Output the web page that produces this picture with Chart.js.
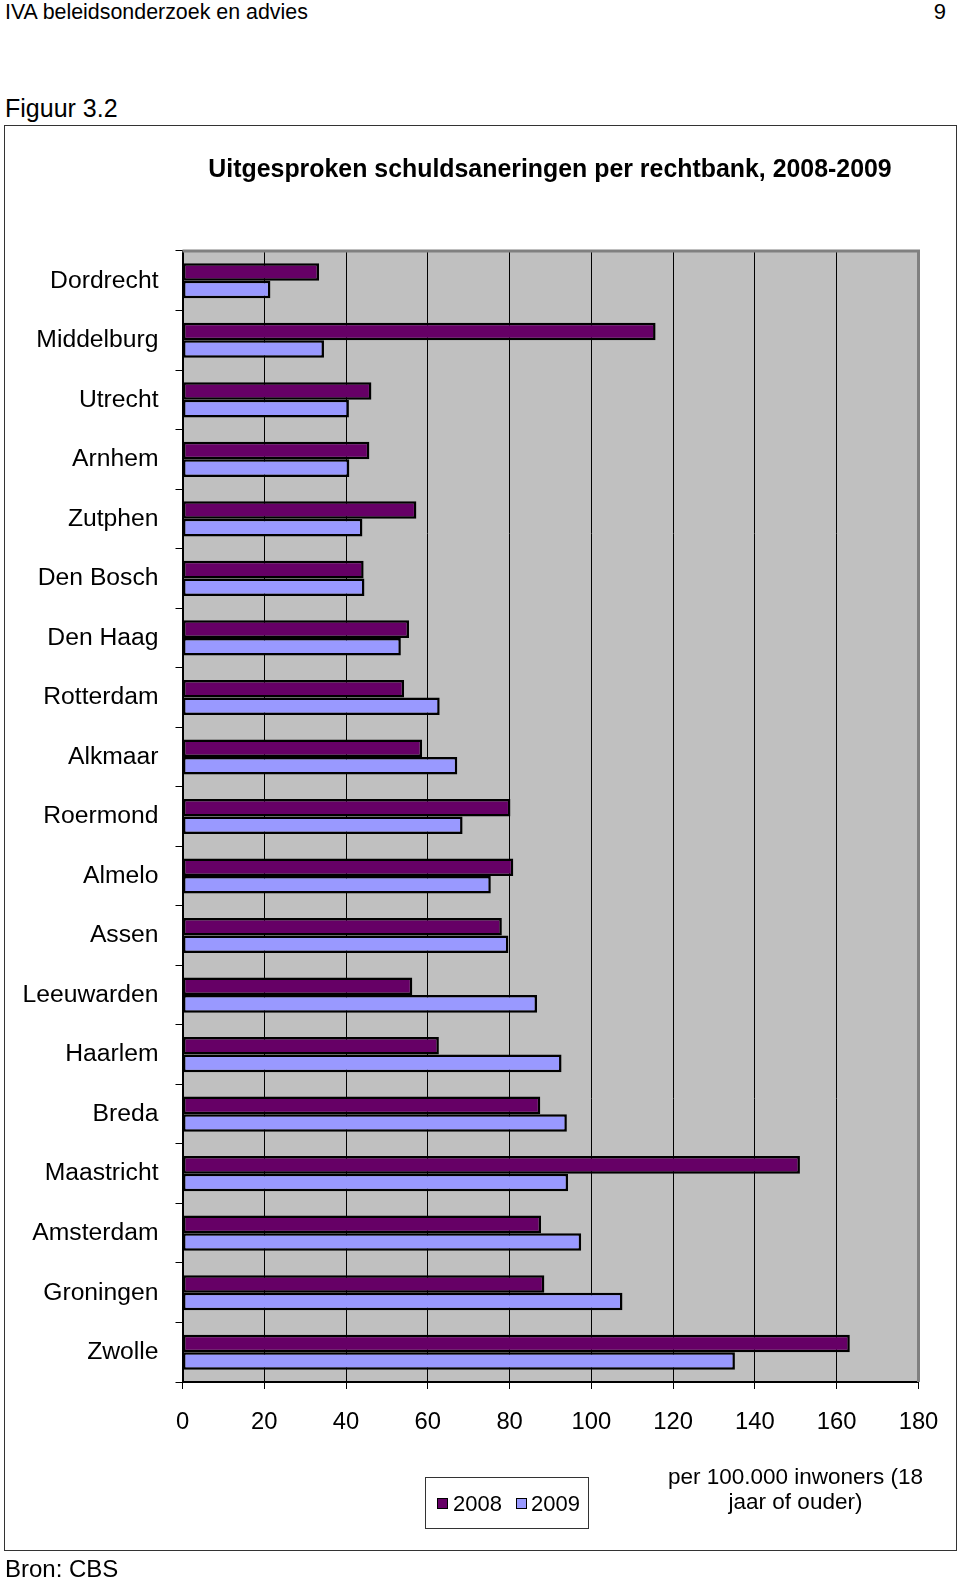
<!DOCTYPE html>
<html>
<head>
<meta charset="utf-8">
<script src="https://cdn.jsdelivr.net/npm/chart.js@4.4.1/dist/chart.umd.min.js"></script>
<style>
  html, body { margin: 0; padding: 0; background: #fff; }
  body { width: 960px; height: 1578px; position: relative; overflow: hidden; font-family: "Liberation Sans", Arial, sans-serif; color: #000; }
  .t { position: absolute; white-space: nowrap; }
  #box { position: absolute; left: 4px; top: 125px; width: 951px; height: 1424px; border: 1px solid #333; }
  #c { position: absolute; left: 0; top: 0; }
  #legend { position: absolute; left: 425px; top: 1477px; width: 162px; height: 50px; border: 1px solid #333; background: #fff; }
  .sw { position: absolute; width: 9px; height: 9px; border: 1.5px solid #000; }
  .lt { position: absolute; font-size: 22px; line-height: 22px; }
</style>
</head>
<body>
<div class="t" style="left:5px; top:1.5px; font-size:21.4px; line-height:21px;">IVA beleidsonderzoek en advies</div>
<div class="t" style="left:900px; width:46px; text-align:right; top:0.5px; font-size:22px; line-height:22px;">9</div>
<div class="t" style="left:5px; top:96px; font-size:25px; line-height:25px;">Figuur 3.2</div>
<div id="box"></div>
<canvas id="c" width="960" height="1578"></canvas>
<div class="t" style="left:150px; width:800px; text-align:center; top:155.5px; font-size:24.9px; line-height:25px; font-weight:bold;">Uitgesproken schuldsaneringen per rechtbank, 2008-2009</div>
<div id="legend"></div>
<div class="t" id="axtitle" style="left:645px; width:301px; text-align:center; top:1464px; font-size:22.5px; line-height:25px; white-space:normal;"></div>
<div class="t" style="left:5px; top:1557px; font-size:24px; line-height:24px;">Bron: CBS</div>
<script>
const categories = ["Dordrecht","Middelburg","Utrecht","Arnhem","Zutphen","Den Bosch","Den Haag","Rotterdam","Alkmaar","Roermond","Almelo","Assen","Leeuwarden","Haarlem","Breda","Maastricht","Amsterdam","Groningen","Zwolle"];
const values2008 = [33.4,115.7,46.2,45.7,57.2,44.3,55.4,54.2,58.6,80.2,80.9,78.1,56.2,62.7,87.5,151.0,87.7,88.5,163.2];
const values2009 = [21.5,34.6,40.7,40.8,44.0,44.5,53.4,62.9,67.2,68.5,75.4,79.7,86.7,92.7,94.0,94.3,97.5,107.6,135.1];
const seriesLabels = ["2008","2009"];
const seriesColors = ["#660066","#9999FF"];
const xTicks = [0,20,40,60,80,100,120,140,160,180];
const axisTitleLines = ["per 100.000 inwoners (18", "jaar of ouder)"];

document.getElementById('axtitle').innerHTML = axisTitleLines.join('<br>');
const lg = document.getElementById('legend');
const swX = [11, 90], txX = [27, 105];
seriesLabels.forEach((s, i) => {
  const sw = document.createElement('div'); sw.className = 'sw';
  sw.style.left = swX[i] + 'px'; sw.style.top = '20px'; sw.style.background = seriesColors[i];
  lg.appendChild(sw);
  const tx = document.createElement('div'); tx.className = 'lt';
  tx.style.left = txX[i] + 'px'; tx.style.top = '15px'; tx.textContent = s;
  lg.appendChild(tx);
});

const plotDeco = {
  id: 'plotDeco',
  beforeDraw(chart) {
    const a = chart.chartArea, ctx = chart.ctx;
    ctx.save(); ctx.fillStyle = '#C0C0C0';
    ctx.fillRect(a.left, a.top, a.right - a.left, a.bottom - a.top);
    ctx.restore();
  },
  afterDraw(chart) {
    const a = chart.chartArea, ctx = chart.ctx;
    ctx.save(); ctx.strokeStyle = '#808080'; ctx.lineWidth = 3;
    ctx.beginPath();
    ctx.moveTo(a.left, a.top); ctx.lineTo(a.right, a.top); ctx.lineTo(a.right, a.bottom);
    ctx.stroke(); ctx.restore();
  }
};

new Chart(document.getElementById('c'), {
  type: 'bar',
  data: {
    labels: categories,
    datasets: [
      { label: seriesLabels[0], data: values2008, backgroundColor: seriesColors[0], borderColor: '#000', borderWidth: 2.5, borderSkipped: false, categoryPercentage: 0.59, barPercentage: 1.0 },
      { label: seriesLabels[1], data: values2009, backgroundColor: seriesColors[1], borderColor: '#000', borderWidth: 2.5, borderSkipped: false, categoryPercentage: 0.59, barPercentage: 1.0 }
    ]
  },
  options: {
    indexAxis: 'y',
    responsive: false,
    animation: false,
    devicePixelRatio: 1,
    layout: { padding: { top: 251, right: 41.5, bottom: 136, left: 0 } },
    plugins: { legend: { display: false }, title: { display: false }, tooltip: { enabled: false } },
    scales: {
      x: {
        min: 0, max: 180,
        afterBuildTicks(scale) { scale.ticks = xTicks.map(v => ({ value: v })); },
        afterFit(scale) { scale.height = 60; },
        grid: { color: '#000', lineWidth: 1, tickLength: 7, drawOnChartArea: true, drawTicks: true },
        border: { display: true, color: '#000', width: 2 },
        ticks: { color: '#000', padding: 19, font: { family: 'Liberation Sans', size: 23.8 }, maxRotation: 0 }
      },
      y: {
        afterFit(scale) { scale.width = 182.5; },
        grid: { color: '#000', lineWidth: 1, tickLength: 7, drawOnChartArea: false, drawTicks: true, offset: true },
        border: { display: true, color: '#000', width: 2 },
        ticks: { color: '#000', padding: 17, font: { family: 'Liberation Sans', size: 24.7 } }
      }
    }
  },
  plugins: [plotDeco]
});
</script>
</body>
</html>
